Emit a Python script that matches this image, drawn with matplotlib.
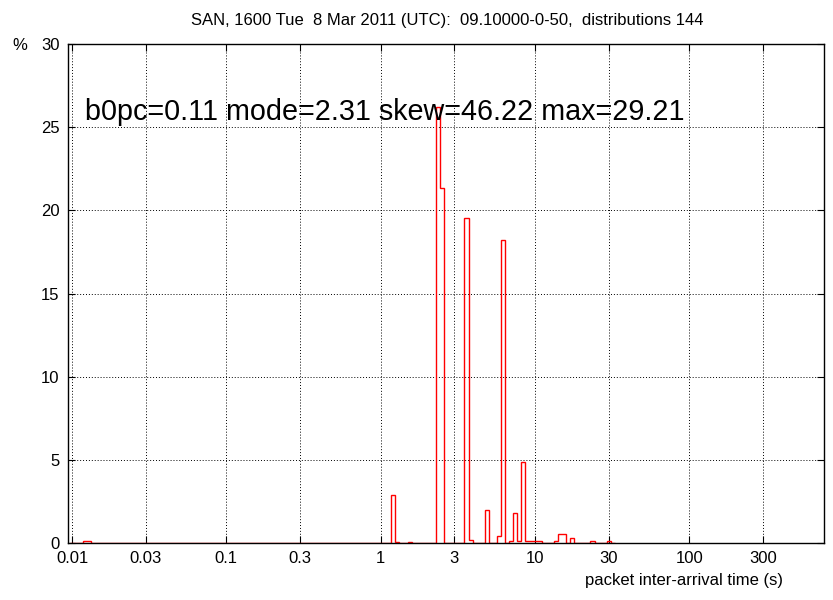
import numpy as np
import matplotlib
matplotlib.use("Agg")
import matplotlib.pyplot as plt

plt.rcParams['font.family'] = ['Liberation Sans', 'DejaVu Sans']

# log-spaced histogram bins: lower edge of bin n is EDGE0 * RATIO**n
EDGE0 = 1.173
RATIO = 1.0625
first_bin, last_bin = -79, 55

# non-empty bins (bin index -> percent of packets)
bin_index = [-76, -75, 0, 1, 4, 11, 12, 18, 19, 23, 26, 27, 29, 30, 31, 32,
             33, 34, 35, 36, 40, 41, 42, 44, 49, 53]
pct = [0.1, 0.1, 2.86, 0.08, 0.08, 26.2, 21.33, 19.52, 0.18, 2.0, 0.4, 18.2,
       0.1, 1.78, 0.1, 4.89, 0.1, 0.1, 0.1, 0.1, 0.1, 0.52, 0.52, 0.28, 0.1, 0.1]

xticks = [0.01, 0.03, 0.1, 0.3, 1, 3, 10, 30, 100, 300]
xticklabels = ['0.01', '0.03', '0.1', '0.3', '1', '3', '10', '30', '100', '300']
yticks = [0, 5, 10, 15, 20, 25, 30]

title = 'SAN, 1600 Tue  8 Mar 2011 (UTC):  09.10000-0-50,  distributions 144'
stats = 'b0pc=0.11 mode=2.31 skew=46.22 max=29.21'

n = np.arange(first_bin, last_bin + 1)
edges = EDGE0 * RATIO ** n
values = np.zeros(len(n) - 1)
for i, v in zip(bin_index, pct):
    values[i - first_bin] = v

fig = plt.figure(figsize=(8.33, 6), dpi=100)
ax = fig.add_axes([68 / 833, 57 / 600, 756 / 833, 499 / 600])

ax.stairs(values, edges, baseline=0, color='red', linewidth=1.0, zorder=3)

ax.set_xscale('log')
ax.set_xlim(0.00942, 746)
ax.set_ylim(0, 30)
ax.set_xticks(xticks)
ax.set_xticklabels(xticklabels)
ax.minorticks_off()
ax.set_yticks(yticks)
ax.tick_params(direction='in', length=5, width=0.8, labelsize=12,
               top=True, right=True, pad=6)
ax.grid(True, color='black', linestyle=(0, (1, 2)), linewidth=0.7)
for s in ax.spines.values():
    s.set_linewidth(1.0)
    s.set_zorder(4)

fig.text(447 / 833, 1 - 20 / 600, title, ha='center', va='center', fontsize=12)
fig.text(20 / 833, 1 - 46 / 600, '%', ha='center', va='center', fontsize=12)
ax.text(0.0225, 0.848, stats, transform=ax.transAxes, ha='left',
        va='baseline', fontsize=20.7)
fig.text(783 / 833, 1 - 581 / 600, 'packet inter-arrival time (s)',
         ha='right', va='center', fontsize=12)

fig.savefig('out.png', dpi=100)
